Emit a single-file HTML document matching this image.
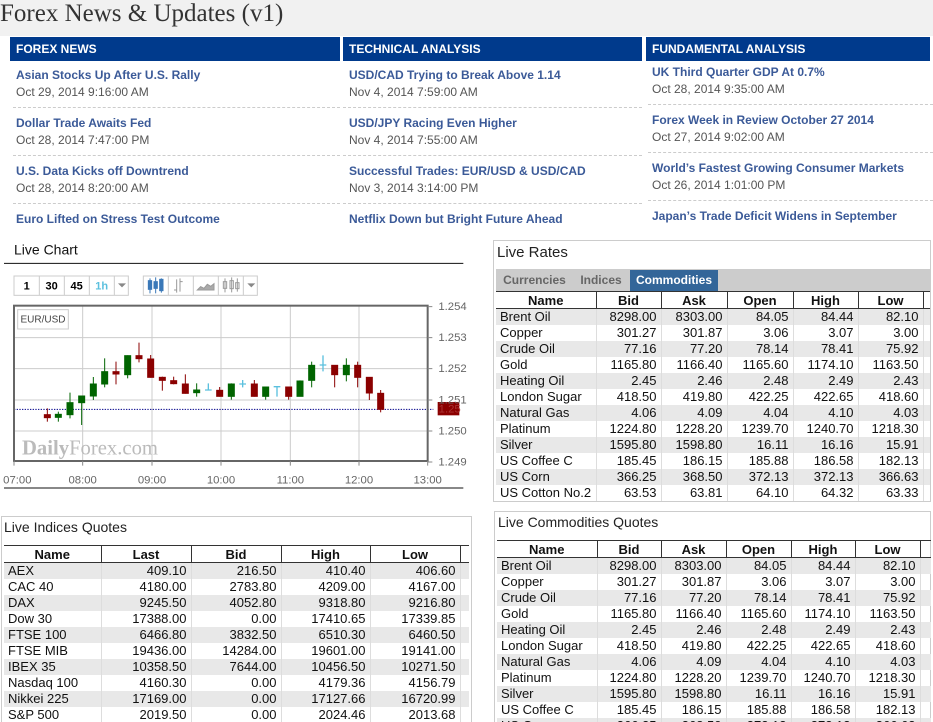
<!DOCTYPE html>
<html><head><meta charset="utf-8"><style>
*{margin:0;padding:0;box-sizing:border-box}
html,body{width:933px;height:722px;overflow:hidden}
body{background:#fff;font-family:"Liberation Sans",Arial,sans-serif;position:relative}
.a{position:absolute}
.top{left:0;top:0;width:933px;height:36px;background:#f1f1f1}
.title{left:0;top:0px;font-family:"Liberation Serif",serif;font-size:25px;color:#333}
.bar{top:37px;height:24px;background:#003a8c;color:#fff;font-weight:bold;font-size:12px;line-height:24px;padding-left:6px}
.nt{font-size:12px;font-weight:bold;color:#3b5a98;white-space:nowrap}
.nd{font-size:12px;color:#555;white-space:nowrap}
.sep{height:0;border-top:1px dashed #ccc}
.box{border:1px solid #ccc}
.h{font-size:14px;color:#222}
table{border-collapse:collapse;font-size:13px;table-layout:fixed;position:absolute}
td,th{height:16px;padding:0 4px;white-space:nowrap;line-height:15px;color:#111;overflow:hidden}
th{font-weight:bold;text-align:center;border-left:1px solid #333;border-top:1px solid #333;border-bottom:1px solid #333;height:17px}
th:first-child{border-left:none}
td{text-align:right;border-left:1px solid #ddd}
td:first-child{text-align:left;border-left:none}
tr:nth-child(even) td{background:#e8e8e8}
.tab{top:270px;height:21px;font-size:12px;font-weight:bold;line-height:21px;text-align:center;color:#666;background:#ccc}
</style></head><body>
<div class="a top"></div>
<div class="a title">Forex News &amp; Updates (v1)</div>
<div class="a bar" style="left:10px;width:330px">FOREX NEWS</div>
<div class="a bar" style="left:343px;width:299px">TECHNICAL ANALYSIS</div>
<div class="a bar" style="left:646px;width:284px">FUNDAMENTAL ANALYSIS</div>

<div class="a nt" style="left:16px;top:68px">Asian Stocks Up After U.S. Rally</div>
<div class="a nd" style="left:16px;top:85px">Oct 29, 2014 9:16:00 AM</div>
<div class="a sep" style="left:13px;top:107px;width:327px"></div>
<div class="a nt" style="left:16px;top:116px">Dollar Trade Awaits Fed</div>
<div class="a nd" style="left:16px;top:133px">Oct 28, 2014 7:47:00 PM</div>
<div class="a sep" style="left:13px;top:155px;width:327px"></div>
<div class="a nt" style="left:16px;top:164px">U.S. Data Kicks off Downtrend</div>
<div class="a nd" style="left:16px;top:181px">Oct 28, 2014 8:20:00 AM</div>
<div class="a sep" style="left:13px;top:203px;width:327px"></div>
<div class="a nt" style="left:16px;top:212px">Euro Lifted on Stress Test Outcome</div>

<div class="a nt" style="left:349px;top:68px">USD/CAD Trying to Break Above 1.14</div>
<div class="a nd" style="left:349px;top:85px">Nov 4, 2014 7:59:00 AM</div>
<div class="a sep" style="left:343px;top:107px;width:299px"></div>
<div class="a nt" style="left:349px;top:116px">USD/JPY Racing Even Higher</div>
<div class="a nd" style="left:349px;top:133px">Nov 4, 2014 7:55:00 AM</div>
<div class="a sep" style="left:343px;top:155px;width:299px"></div>
<div class="a nt" style="left:349px;top:164px">Successful Trades: EUR/USD &amp; USD/CAD</div>
<div class="a nd" style="left:349px;top:181px">Nov 3, 2014 3:14:00 PM</div>
<div class="a sep" style="left:343px;top:203px;width:299px"></div>
<div class="a nt" style="left:349px;top:212px">Netflix Down but Bright Future Ahead</div>

<div class="a nt" style="left:652px;top:65px">UK Third Quarter GDP At 0.7%</div>
<div class="a nd" style="left:652px;top:82px">Oct 28, 2014 9:35:00 AM</div>
<div class="a sep" style="left:648px;top:104px;width:285px"></div>
<div class="a nt" style="left:652px;top:113px">Forex Week in Review October 27 2014</div>
<div class="a nd" style="left:652px;top:130px">Oct 27, 2014 9:02:00 AM</div>
<div class="a sep" style="left:648px;top:152px;width:285px"></div>
<div class="a nt" style="left:652px;top:161px">World’s Fastest Growing Consumer Markets</div>
<div class="a nd" style="left:652px;top:178px">Oct 26, 2014 1:01:00 PM</div>
<div class="a sep" style="left:648px;top:200px;width:285px"></div>
<div class="a nt" style="left:652px;top:209px">Japan’s Trade Deficit Widens in September</div>

<svg class="a" style="left:0;top:240px" width="470" height="250" viewBox="0 0 1410 750" font-family="Liberation Sans, Arial, sans-serif">
<text x="42" y="44" font-size="42" fill="#111">Live Chart</text>
<line x1="12" y1="70" x2="1390" y2="70" stroke="#111" stroke-width="3"/>
<g fill="#fff" stroke="#ccc" stroke-width="3">
<rect x="42" y="108" width="343" height="58"/>
<rect x="430" y="108" width="342" height="58"/>
</g>
<g stroke="#ccc" stroke-width="3"><line x1="118" y1="108" x2="118" y2="166"/><line x1="193" y1="108" x2="193" y2="166"/><line x1="268" y1="108" x2="268" y2="166"/><line x1="343" y1="108" x2="343" y2="166"/>
<line x1="505" y1="108" x2="505" y2="166"/><line x1="580" y1="108" x2="580" y2="166"/><line x1="655" y1="108" x2="655" y2="166"/><line x1="730" y1="108" x2="730" y2="166"/></g>
<g font-size="33" font-weight="bold" text-anchor="middle"><text x="80" y="148">1</text><text x="155" y="148">30</text><text x="230" y="148">45</text><text x="305" y="148" fill="#5bc0de">1h</text></g>
<path d="M354 130h24l-12 12z M742 130h24l-12 12z" fill="#888"/>
<g stroke="#3a78b8" stroke-width="3" fill="#3a78b8"><line x1="450" y1="115" x2="450" y2="160"/><rect x="445" y="122" width="10" height="26"/><line x1="467" y1="112" x2="467" y2="160"/><rect x="462" y="125" width="10" height="20"/><line x1="484" y1="115" x2="484" y2="158"/><rect x="479" y="118" width="10" height="34"/></g>
<g stroke="#999" stroke-width="3" fill="none"><path d="M530 118v40M522 150h8M540 115v40M548 125h-8"/><path d="M592 150l10-10 10 5 10-12 10 6 10-8v19h-50z" fill="#aaa"/><path d="M675 115v42M695 112v45M712 115v40"/><rect x="670" y="125" width="10" height="20"/><rect x="690" y="122" width="10" height="24"/><rect x="707" y="128" width="10" height="18"/></g>
<rect x="42" y="197" width="1241" height="466" fill="#fff"/>
<g stroke="#ccc" stroke-width="3"><line x1="248" y1="197" x2="248" y2="663"/><line x1="456" y1="197" x2="456" y2="663"/><line x1="663" y1="197" x2="663" y2="663"/><line x1="871" y1="197" x2="871" y2="663"/><line x1="1077" y1="197" x2="1077" y2="663"/>
<line x1="42" y1="293" x2="1283" y2="293"/><line x1="42" y1="386" x2="1283" y2="386"/><line x1="42" y1="480" x2="1283" y2="480"/><line x1="42" y1="573" x2="1283" y2="573"/></g>
<text x="66" y="643" font-family="Liberation Serif, serif" font-weight="bold" font-size="62" fill="#bbb">Daily<tspan font-weight="normal">Forex.com</tspan></text>
<rect x="53" y="209" width="152" height="58" fill="#fff" stroke="#ccc" stroke-width="3"/>
<text x="129" y="247" font-size="30" fill="#444" text-anchor="middle">EUR/USD</text>
<line x1="42" y1="508" x2="1300" y2="508" stroke="#00008b" stroke-width="3" stroke-dasharray="4 4"/>
<g stroke-width="3">
<g stroke="#8b0000" fill="#8b0000">
<line x1="142" y1="505" x2="142" y2="545"/><rect x="133" y="524" width="18" height="9"/>
<line x1="348" y1="365" x2="348" y2="433"/><rect x="339" y="395" width="18" height="7"/>
<line x1="417" y1="308" x2="417" y2="367"/><rect x="408" y="347" width="18" height="9"/>
<line x1="452" y1="345" x2="452" y2="413"/><rect x="443" y="357" width="18" height="55"/>
<line x1="487" y1="410" x2="487" y2="452"/><rect x="478" y="412" width="18" height="9"/>
<line x1="521" y1="410" x2="521" y2="433"/><rect x="512" y="422" width="18" height="9"/>
<line x1="556" y1="403" x2="556" y2="461"/><rect x="547" y="432" width="18" height="28"/>
<line x1="659" y1="441" x2="659" y2="470"/><rect x="650" y="451" width="18" height="18"/>
<line x1="763" y1="420" x2="763" y2="470"/><rect x="754" y="432" width="18" height="37"/>
<line x1="866" y1="440" x2="866" y2="479"/><rect x="857" y="441" width="18" height="28"/>
<line x1="1004" y1="375" x2="1004" y2="442"/><rect x="995" y="376" width="18" height="28"/>
<line x1="1073" y1="365" x2="1073" y2="442"/><rect x="1064" y="376" width="18" height="36"/>
<line x1="1108" y1="411" x2="1108" y2="480"/><rect x="1099" y="412" width="18" height="47"/>
<line x1="1142" y1="450" x2="1142" y2="517"/><rect x="1133" y="460" width="18" height="48"/>
</g>
<g stroke="#006400" fill="#006400">
<line x1="175" y1="515" x2="175" y2="545"/><rect x="166" y="523" width="18" height="9"/>
<line x1="210" y1="458" x2="210" y2="535"/><rect x="201" y="488" width="18" height="36"/>
<line x1="245" y1="468" x2="245" y2="555"/><rect x="236" y="468" width="18" height="20"/>
<line x1="280" y1="411" x2="280" y2="480"/><rect x="271" y="432" width="18" height="36"/>
<line x1="314" y1="355" x2="314" y2="442"/><rect x="305" y="395" width="18" height="37"/>
<line x1="383" y1="346" x2="383" y2="415"/><rect x="374" y="347" width="18" height="57"/>
<line x1="590" y1="430" x2="590" y2="470"/><rect x="581" y="450" width="18" height="8"/>
<line x1="694" y1="430" x2="694" y2="479"/><rect x="685" y="432" width="18" height="37"/>
<line x1="797" y1="440" x2="797" y2="479"/><rect x="788" y="441" width="18" height="28"/>
<line x1="900" y1="421" x2="900" y2="469"/><rect x="891" y="423" width="18" height="46"/>
<line x1="935" y1="365" x2="935" y2="442"/><rect x="926" y="376" width="18" height="45"/>
<line x1="1039" y1="355" x2="1039" y2="424"/><rect x="1030" y="376" width="18" height="28"/>
</g>
<g stroke="#5bc0de" stroke-width="4">
<path d="M625 430v21M615 450h20M728 420v22M718 432h20M831 439v31M821 440h20M969 346v48M959 375h20"/>
</g></g>
<rect x="42" y="197" width="1241" height="466" fill="none" stroke="#666" stroke-width="6"/>
<g stroke="#888" stroke-width="3"><path d="M1283 200h14M1283 293h14M1283 386h14M1283 480h14M1283 573h14M1283 666h14M248 663v14M456 663v14M663 663v14M871 663v14M1077 663v14M42 663v14M1283 663v14"/></g>
<rect x="1313" y="486" width="65" height="40" fill="#8b0000"/>
<g font-size="34" fill="#666"><text x="1315" y="210">1.254</text><text x="1315" y="303">1.253</text><text x="1315" y="396">1.252</text><text x="1315" y="490">1.251</text><text x="1315" y="583">1.250</text><text x="1315" y="676">1.249</text><text x="1316" y="517" fill="#a33">1.25</text></g>
<g font-size="34" fill="#666" text-anchor="middle"><text x="52" y="730">07:00</text><text x="248" y="730">08:00</text><text x="456" y="730">09:00</text><text x="663" y="730">10:00</text><text x="871" y="730">11:00</text><text x="1077" y="730">12:00</text><text x="1283" y="730">13:00</text></g>
<line x1="12" y1="744" x2="1390" y2="744" stroke="#111" stroke-width="3"/>
</svg>

<div class="a box" style="left:493px;top:240px;width:438px;height:262px"></div>
<div class="a h" style="left:497px;top:244px;font-size:15px">Live Rates</div>
<div class="a" style="left:496px;top:269px;width:434px;height:22px;background:#ccc"></div>
<div class="a tab" style="left:497px;width:75px">Currencies</div>
<div class="a tab" style="left:573px;width:56px">Indices</div>
<div class="a tab" style="left:630px;width:88px;background:#336699;color:#fff">Commodities</div>
<table style="left:496px;top:291px;width:434px">
<colgroup><col style="width:100px"><col style="width:65px"><col style="width:66px"><col style="width:66px"><col style="width:65px"><col style="width:65px"><col></colgroup>
<tr><th>Name</th><th>Bid</th><th>Ask</th><th>Open</th><th>High</th><th>Low</th><th></th></tr>
<tr><td>Brent Oil</td><td>8298.00</td><td>8303.00</td><td>84.05</td><td>84.44</td><td>82.10</td><td></td></tr>
<tr><td>Copper</td><td>301.27</td><td>301.87</td><td>3.06</td><td>3.07</td><td>3.00</td><td></td></tr>
<tr><td>Crude Oil</td><td>77.16</td><td>77.20</td><td>78.14</td><td>78.41</td><td>75.92</td><td></td></tr>
<tr><td>Gold</td><td>1165.80</td><td>1166.40</td><td>1165.60</td><td>1174.10</td><td>1163.50</td><td></td></tr>
<tr><td>Heating Oil</td><td>2.45</td><td>2.46</td><td>2.48</td><td>2.49</td><td>2.43</td><td></td></tr>
<tr><td>London Sugar</td><td>418.50</td><td>419.80</td><td>422.25</td><td>422.65</td><td>418.60</td><td></td></tr>
<tr><td>Natural Gas</td><td>4.06</td><td>4.09</td><td>4.04</td><td>4.10</td><td>4.03</td><td></td></tr>
<tr><td>Platinum</td><td>1224.80</td><td>1228.20</td><td>1239.70</td><td>1240.70</td><td>1218.30</td><td></td></tr>
<tr><td>Silver</td><td>1595.80</td><td>1598.80</td><td>16.11</td><td>16.16</td><td>15.91</td><td></td></tr>
<tr><td>US Coffee C</td><td>185.45</td><td>186.15</td><td>185.88</td><td>186.58</td><td>182.13</td><td></td></tr>
<tr><td>US Corn</td><td>366.25</td><td>368.50</td><td>372.13</td><td>372.13</td><td>366.63</td><td></td></tr>
<tr><td>US Cotton No.2</td><td>63.53</td><td>63.81</td><td>64.10</td><td>64.32</td><td>63.33</td><td></td></tr>
</table>

<div class="a box" style="left:1px;top:516px;width:471px;height:210px"></div>
<div class="a h" style="left:4px;top:519px">Live Indices Quotes</div>
<table style="left:4px;top:545px;width:465px">
<colgroup><col style="width:97px"><col style="width:90px"><col style="width:90px"><col style="width:89px"><col style="width:90px"><col></colgroup>
<tr><th>Name</th><th>Last</th><th>Bid</th><th>High</th><th>Low</th><th></th></tr>
<tr><td>AEX</td><td>409.10</td><td>216.50</td><td>410.40</td><td>406.60</td><td></td></tr>
<tr><td>CAC 40</td><td>4180.00</td><td>2783.80</td><td>4209.00</td><td>4167.00</td><td></td></tr>
<tr><td>DAX</td><td>9245.50</td><td>4052.80</td><td>9318.80</td><td>9216.80</td><td></td></tr>
<tr><td>Dow 30</td><td>17388.00</td><td>0.00</td><td>17410.65</td><td>17339.85</td><td></td></tr>
<tr><td>FTSE 100</td><td>6466.80</td><td>3832.50</td><td>6510.30</td><td>6460.50</td><td></td></tr>
<tr><td>FTSE MIB</td><td>19436.00</td><td>14284.00</td><td>19601.00</td><td>19141.00</td><td></td></tr>
<tr><td>IBEX 35</td><td>10358.50</td><td>7644.00</td><td>10456.50</td><td>10271.50</td><td></td></tr>
<tr><td>Nasdaq 100</td><td>4160.30</td><td>0.00</td><td>4179.36</td><td>4156.79</td><td></td></tr>
<tr><td>Nikkei 225</td><td>17169.00</td><td>0.00</td><td>17127.66</td><td>16720.99</td><td></td></tr>
<tr><td>S&amp;P 500</td><td>2019.50</td><td>0.00</td><td>2024.46</td><td>2013.68</td><td></td></tr>
</table>

<div class="a box" style="left:494px;top:511px;width:437px;height:215px"></div>
<div class="a h" style="left:498px;top:514px">Live Commodities Quotes</div>
<table style="left:497px;top:540px;width:434px">
<colgroup><col style="width:100px"><col style="width:64px"><col style="width:65px"><col style="width:65px"><col style="width:64px"><col style="width:65px"><col></colgroup>
<tr><th>Name</th><th>Bid</th><th>Ask</th><th>Open</th><th>High</th><th>Low</th><th></th></tr>
<tr><td>Brent Oil</td><td>8298.00</td><td>8303.00</td><td>84.05</td><td>84.44</td><td>82.10</td><td></td></tr>
<tr><td>Copper</td><td>301.27</td><td>301.87</td><td>3.06</td><td>3.07</td><td>3.00</td><td></td></tr>
<tr><td>Crude Oil</td><td>77.16</td><td>77.20</td><td>78.14</td><td>78.41</td><td>75.92</td><td></td></tr>
<tr><td>Gold</td><td>1165.80</td><td>1166.40</td><td>1165.60</td><td>1174.10</td><td>1163.50</td><td></td></tr>
<tr><td>Heating Oil</td><td>2.45</td><td>2.46</td><td>2.48</td><td>2.49</td><td>2.43</td><td></td></tr>
<tr><td>London Sugar</td><td>418.50</td><td>419.80</td><td>422.25</td><td>422.65</td><td>418.60</td><td></td></tr>
<tr><td>Natural Gas</td><td>4.06</td><td>4.09</td><td>4.04</td><td>4.10</td><td>4.03</td><td></td></tr>
<tr><td>Platinum</td><td>1224.80</td><td>1228.20</td><td>1239.70</td><td>1240.70</td><td>1218.30</td><td></td></tr>
<tr><td>Silver</td><td>1595.80</td><td>1598.80</td><td>16.11</td><td>16.16</td><td>15.91</td><td></td></tr>
<tr><td>US Coffee C</td><td>185.45</td><td>186.15</td><td>185.88</td><td>186.58</td><td>182.13</td><td></td></tr>
<tr><td>US Corn</td><td>366.25</td><td>368.50</td><td>372.13</td><td>372.13</td><td>366.63</td><td></td></tr>
</table>
</body></html>
